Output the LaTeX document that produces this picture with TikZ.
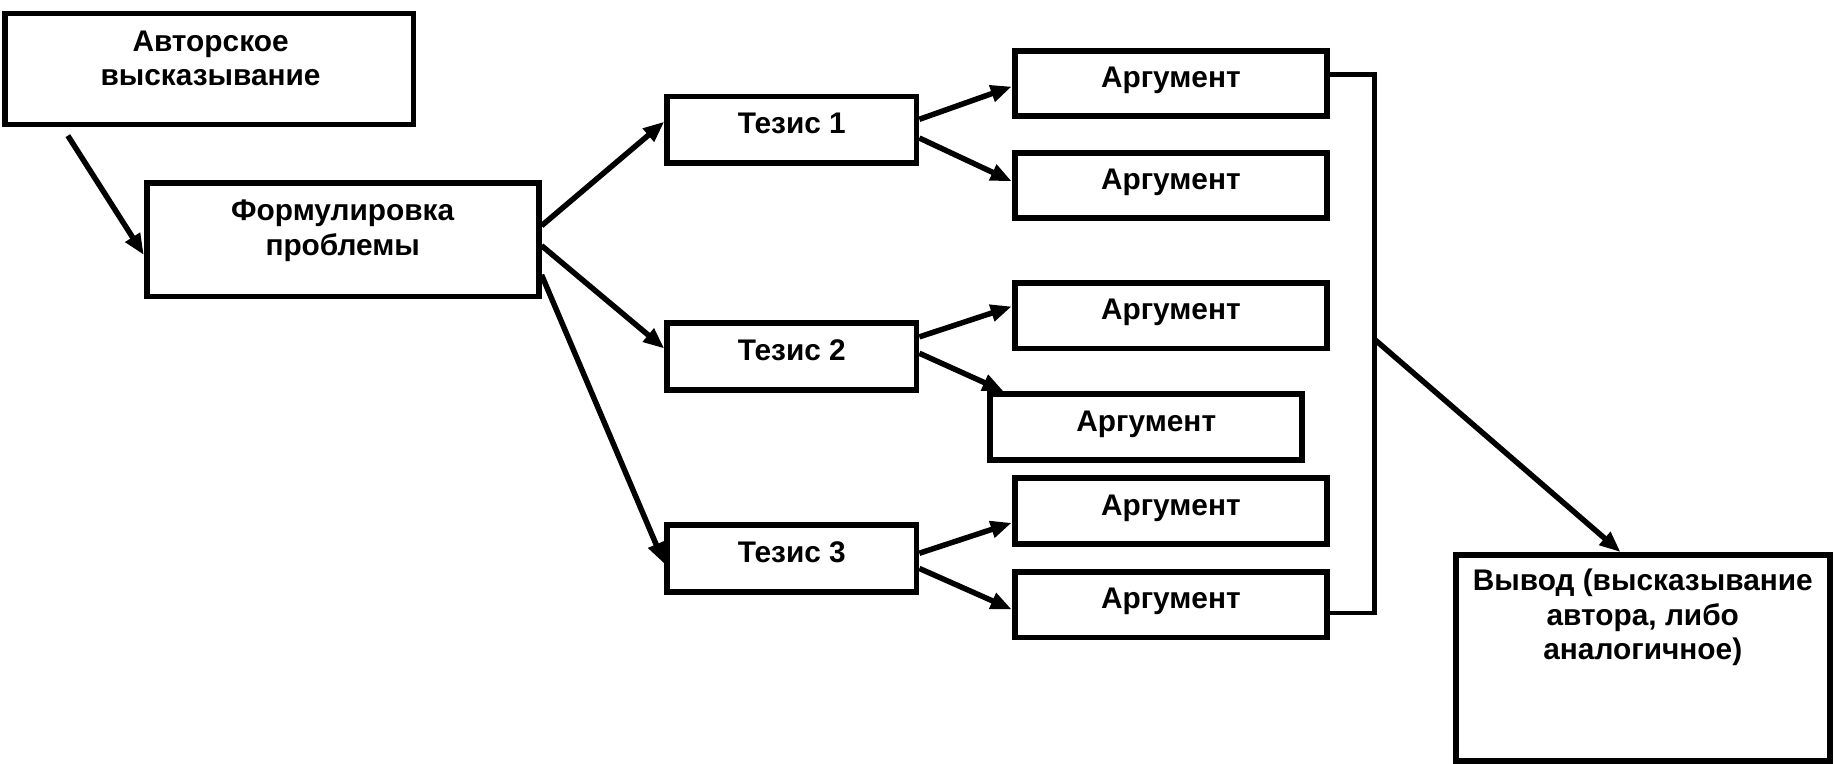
\documentclass[tikz,border=0pt]{standalone}
\usepackage{fontspec}
\setmainfont{Liberation Sans}
\usetikzlibrary{arrows.meta,calc}
\begin{document}
\begin{tikzpicture}[x=1pt,y=-1pt,
  box/.style={draw, line width=5pt, rectangle, inner sep=0pt,
    font=\bfseries\fontsize{25.5}{29.5}\selectfont, align=center,
    text height=18pt, text depth=11pt},
  bigbox/.style={draw, line width=5pt, rectangle, inner sep=0pt},
  txt/.style={font=\bfseries\fontsize{25.5}{29.5}\selectfont, align=center, inner sep=0pt},
  tbox/.style={box, minimum width=213pt, minimum height=57pt},
  abox/.style={box, minimum width=267pt, minimum height=56pt},
  arr/.style={line width=4.7pt, -{Triangle[length=18pt,width=14pt]}},
  ln/.style={line width=4pt},
]
\useasboundingbox (0,0) rectangle (1568,653);

% left boxes
\node[bigbox, minimum width=349pt, minimum height=95pt] (A) at (179,59) {};
\node[txt] (At) at (180,50) {Авторское\\высказывание};
\node[bigbox, minimum width=335pt, minimum height=97pt] (F) at (293,205) {};
\node[txt] (Ft) at (293,197.5) {Формулировка\\проблемы};

% theses
\node[tbox] (T1) at (677,111) {Тезис 1};
\node[tbox] (T2) at (677,305) {Тезис 2};
\node[tbox] (T3) at (677,477.5) {Тезис 3};

% arguments
\node[abox] (G1) at (1001,71.5) {Аргумент};
\node[abox] (G2) at (1001,158.5) {Аргумент};
\node[abox] (G3) at (1001,270) {Аргумент};
\node[abox] (G4) at (980,365) {Аргумент};
\node[abox] (G5) at (1001,437) {Аргумент};
\node[abox] (G6) at (1001,517) {Аргумент};

% conclusion
\node[bigbox, minimum width=320pt, minimum height=176pt] (V) at (1404.5,562.5) {};
\node[txt] (Vt) at (1404.5,528) {Вывод (высказывание\\автора, либо\\аналогичное)};

% connectors
\draw[arr] ($(A.south)+(-121,7)$) -- ($(F.west)+(0,13)$);
\draw[arr] ($(F.east)+(0,-12)$) -- ($(T1.west)+(0,-7)$);
\draw[arr] ($(F.east)+(0,5)$) -- ($(T2.west)+(0,-7)$);
\draw[arr] ($(F.east)+(0,30)$) -- ($(T3.west)+(0,4.5)$);

\draw[arr] ($(T1.east)+(0,-9)$) -- ($(G1.west)+(0,2.5)$);
\draw[arr] ($(T1.east)+(0,7)$) -- ($(G2.west)+(0,-3.5)$);
\draw[arr] ($(T2.east)+(0,-17)$) -- ($(G3.west)+(0,-8)$);
\draw[arr] ($(T2.east)+(0,-3)$) -- ($(G4.north west)+(14,0)$);
\draw[arr] ($(T3.east)+(0,-4.5)$) -- ($(G5.west)+(0,10)$);
\draw[arr] ($(T3.east)+(0,8.5)$) -- ($(G6.west)+(0,4)$);

% bracket
\coordinate (bx) at (1175,524);
\coordinate (bm) at (1175,290);
\draw[ln] ($(G1.east)+(0,-8)$) -| (bx) -- ($(G6.east)+(0,7)$);
\draw[arr] (bm) -- ($(V.north)+(-19,0)$);
\end{tikzpicture}
\end{document}
